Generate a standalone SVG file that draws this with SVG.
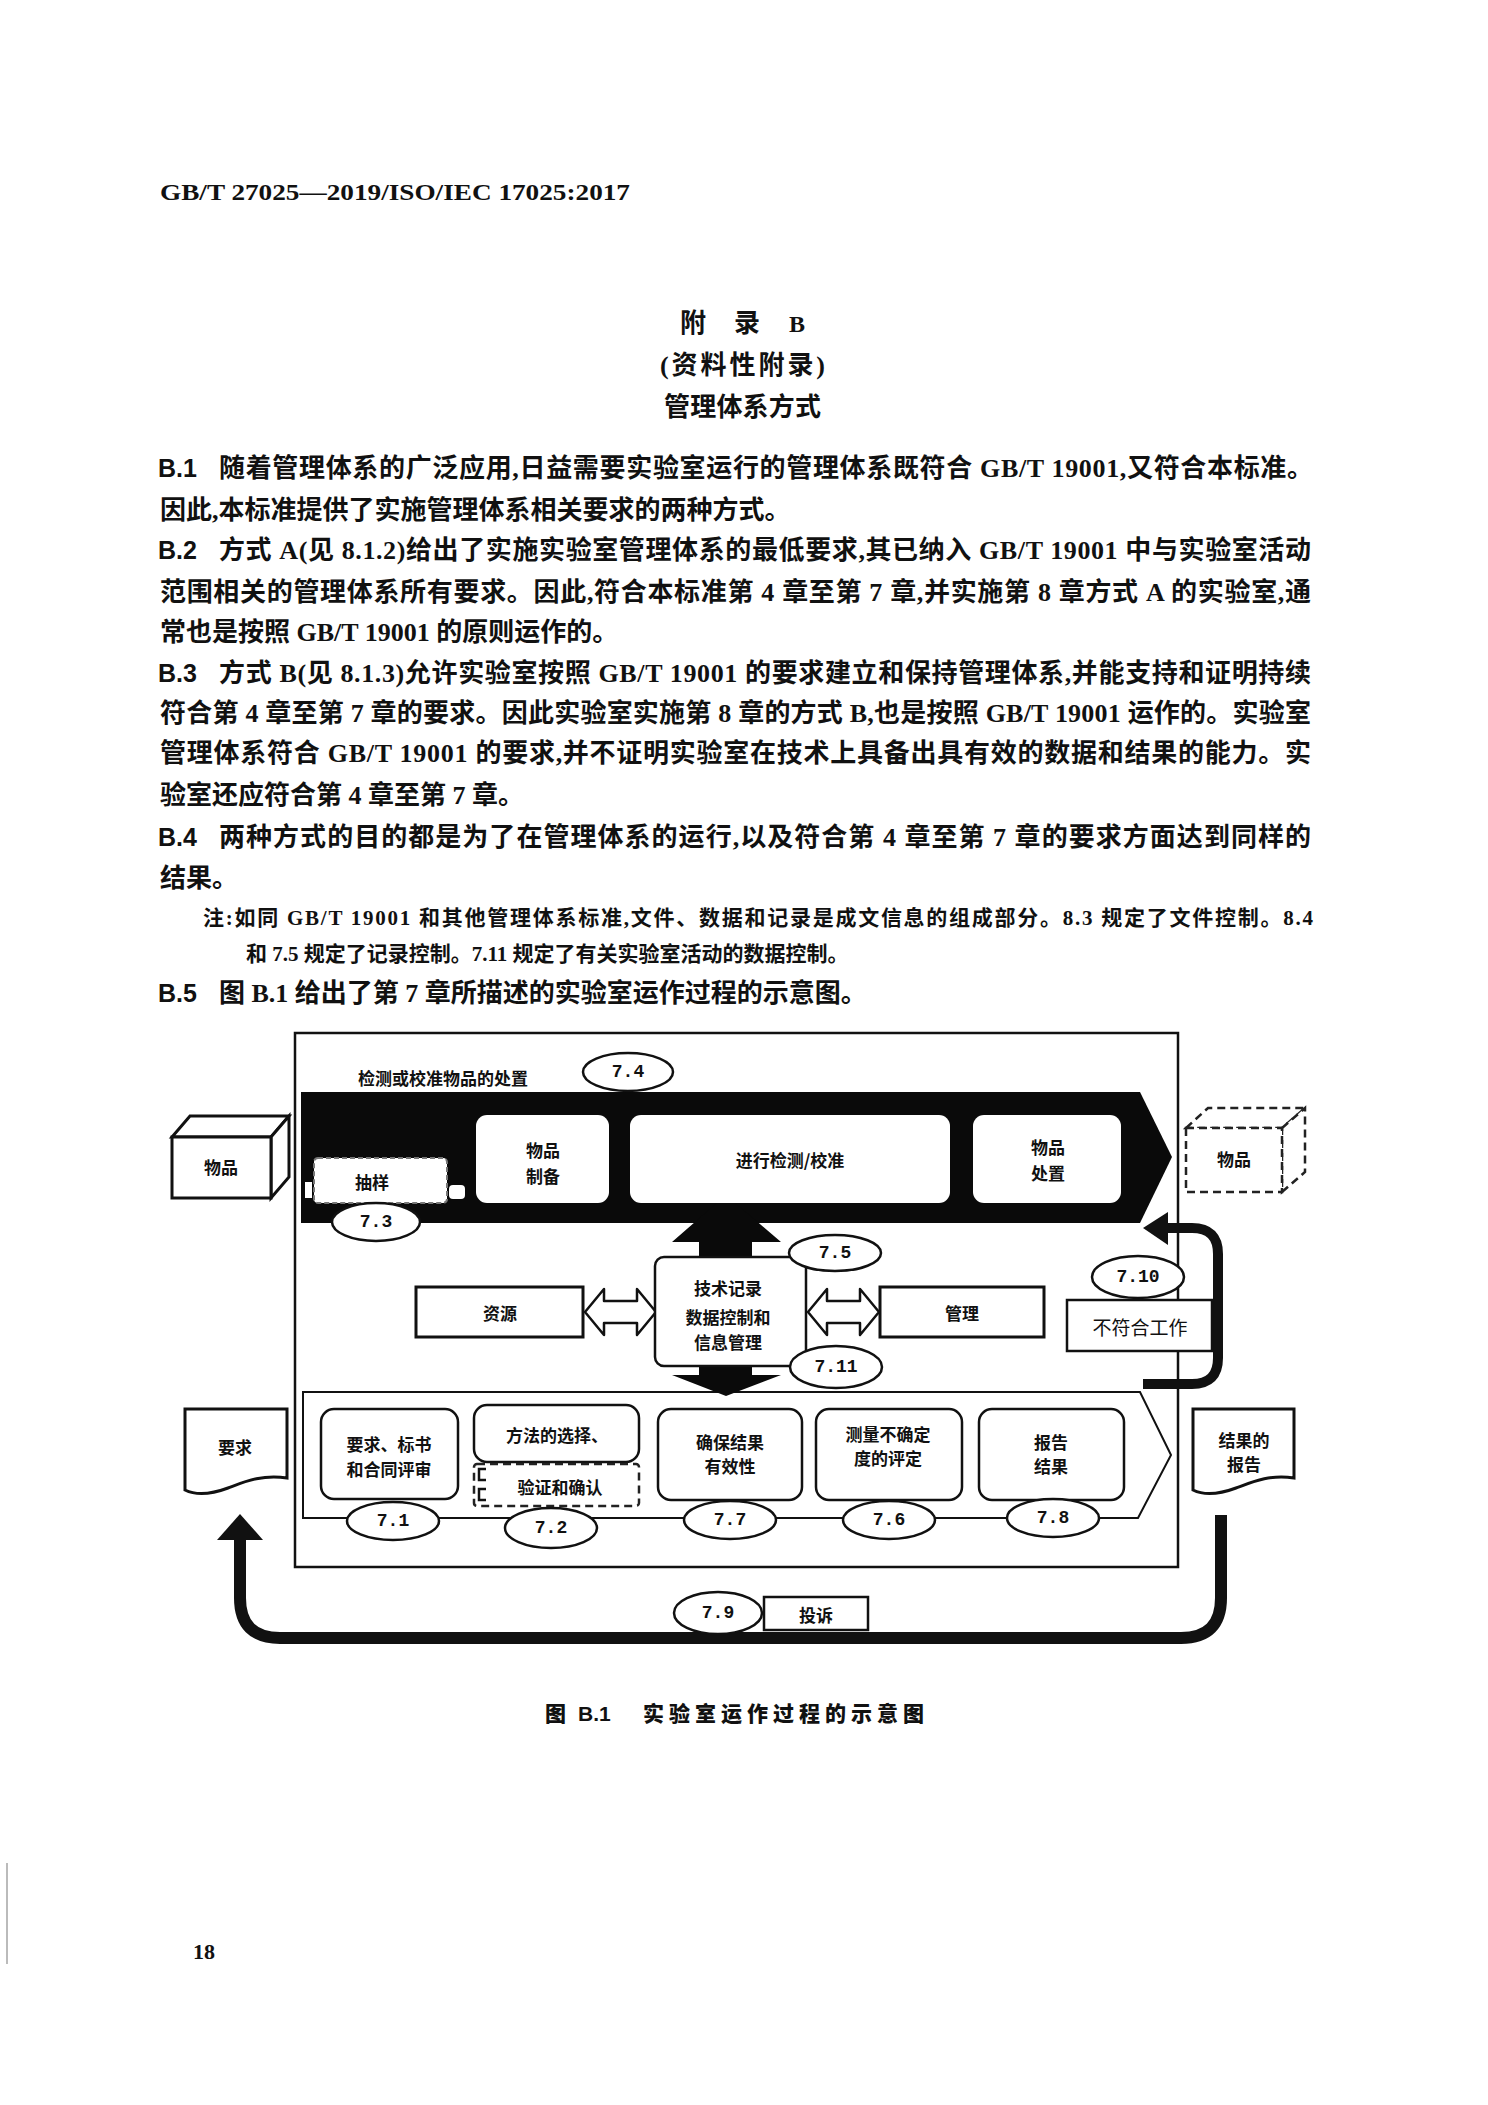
<svg xmlns="http://www.w3.org/2000/svg" width="1488" height="2105" viewBox="0 0 1488 2105">
<style>
.hd{font-family:"Liberation Serif","Noto Sans CJK SC",serif;font-weight:700;fill:#111}
.t{font-family:"Liberation Serif","Noto Sans CJK SC",serif;font-size:26px;font-weight:700;fill:#111}
.lb{font-family:"Liberation Sans","Noto Sans CJK SC",sans-serif;font-size:25px;font-weight:700;fill:#111}
.nt{font-family:"Liberation Serif","Noto Sans CJK SC",serif;font-size:21px;font-weight:700;fill:#111}
.d{font-family:"Noto Sans CJK SC",sans-serif;font-size:17px;font-weight:700;fill:#111;text-anchor:middle;dominant-baseline:central}
.dn{font-family:"Noto Sans CJK SC",sans-serif;font-size:19px;font-weight:400;fill:#111;text-anchor:middle;dominant-baseline:central}
.n{font-family:"Liberation Mono",monospace;font-size:18px;font-weight:700;fill:#111;text-anchor:middle;dominant-baseline:central}
.box{fill:#fff;stroke:#111;stroke-width:2.5}
.thick{fill:#fff;stroke:#111;stroke-width:3}
.ell{fill:#fff;stroke:#111;stroke-width:2.5}
.dash{fill:#fff;stroke:#222;stroke-width:2.5;stroke-dasharray:8 5}
.flow{fill:none;stroke:#111;stroke-linecap:butt}
.cap{font-family:"Liberation Sans","Noto Sans CJK SC",sans-serif;font-size:21px;font-weight:900;fill:#111}
</style>
<rect width="1488" height="2105" fill="#fff"/>
<line x1="7" y1="1863" x2="7" y2="1964" stroke="#bbb" stroke-width="2"/>

<!-- page header and text -->
<text class="hd" x="160" y="200" font-size="23" textLength="470" lengthAdjust="spacingAndGlyphs">GB/T 27025—2019/ISO/IEC 17025:2017</text>
<text class="hd" x="680" y="332" font-size="26" font-family="Noto Sans CJK SC, sans-serif">附</text>
<text class="hd" x="734" y="332" font-size="26" font-family="Noto Sans CJK SC, sans-serif">录</text>
<text class="hd" x="789" y="332" font-size="24">B</text>
<text class="hd" x="660" y="374" font-size="26" textLength="165" font-family="Noto Sans CJK SC, sans-serif">(资料性附录)</text>
<text class="hd" x="664" y="416" font-size="26" textLength="157" font-family="Noto Sans CJK SC, sans-serif">管理体系方式</text>

<text class="lb" x="158" y="477">B.1</text>
<text class="t" x="219" y="477" textLength="1094">随着管理体系的广泛应用,日益需要实验室运行的管理体系既符合 GB/T 19001,又符合本标准。</text>
<text class="t" x="160" y="519">因此,本标准提供了实施管理体系相关要求的两种方式。</text>
<text class="lb" x="158" y="559">B.2</text>
<text class="t" x="219" y="559" textLength="1092">方式 A(见 8.1.2)给出了实施实验室管理体系的最低要求,其已纳入 GB/T 19001 中与实验室活动</text>
<text class="t" x="160" y="601" textLength="1151">范围相关的管理体系所有要求。因此,符合本标准第 4 章至第 7 章,并实施第 8 章方式 A 的实验室,通</text>
<text class="t" x="160" y="641">常也是按照 GB/T 19001 的原则运作的。</text>
<text class="lb" x="158" y="682">B.3</text>
<text class="t" x="219" y="682" textLength="1092">方式 B(见 8.1.3)允许实验室按照 GB/T 19001 的要求建立和保持管理体系,并能支持和证明持续</text>
<text class="t" x="160" y="722" textLength="1151">符合第 4 章至第 7 章的要求。因此实验室实施第 8 章的方式 B,也是按照 GB/T 19001 运作的。实验室</text>
<text class="t" x="160" y="762" textLength="1151">管理体系符合 GB/T 19001 的要求,并不证明实验室在技术上具备出具有效的数据和结果的能力。实</text>
<text class="t" x="160" y="804">验室还应符合第 4 章至第 7 章。</text>
<text class="lb" x="158" y="846">B.4</text>
<text class="t" x="219" y="846" textLength="1092">两种方式的目的都是为了在管理体系的运行,以及符合第 4 章至第 7 章的要求方面达到同样的</text>
<text class="t" x="160" y="887">结果。</text>
<text class="nt" x="203" y="925" textLength="1110">注:如同 GB/T 19001 和其他管理体系标准,文件、数据和记录是成文信息的组成部分。8.3 规定了文件控制。8.4</text>
<text class="nt" x="246" y="961">和 7.5 规定了记录控制。7.11 规定了有关实验室活动的数据控制。</text>
<text class="lb" x="158" y="1002">B.5</text>
<text class="t" x="219" y="1002">图 B.1 给出了第 7 章所描述的实验室运作过程的示意图。</text>

<!-- diagram frame -->
<g id="frame">
<rect x="295" y="1033" width="883" height="534" fill="none" stroke="#111" stroke-width="2.5"/>
</g>

<!-- connectors -->
<g id="connectors">
<polygon id="band" points="301,1092 1140,1092 1172,1157 1140,1223 301,1223" fill="#0a0a0a"/>
<polygon id="chevron" points="303,1392 1140,1392 1171,1455 1138,1518 303,1518" fill="#fff" stroke="#111" stroke-width="2"/>
<polygon points="726,1195 781,1242 752,1242 752,1258 699,1258 699,1242 672,1242" fill="#0a0a0a"/>
<polygon points="699,1365 752,1365 752,1375 781,1375 726,1396 672,1375 699,1375" fill="#0a0a0a"/>
<polygon points="585,1312 604,1289 604,1301 637,1301 637,1289 656,1312 637,1335 637,1323 604,1323 604,1335" fill="#fff" stroke="#111" stroke-width="2.5" stroke-linejoin="round"/>
<polygon points="808,1312 827,1289 827,1301 860,1301 860,1289 879,1312 860,1335 860,1323 827,1323 827,1335" fill="#fff" stroke="#111" stroke-width="2.5" stroke-linejoin="round"/>
<path class="flow" stroke-width="10" d="M1162,1228 H1192 Q1218,1228 1218,1254 V1358 Q1218,1384 1192,1384 H1143"/>
<polygon points="1143,1228 1168,1212 1168,1245" fill="#111"/>
<path class="flow" stroke-width="12" d="M1221,1515 V1598 Q1221,1638 1181,1638 H280 Q240,1638 240,1598 V1536"/>
<polygon points="240,1514 263,1540 217,1540" fill="#111"/>
</g>

<!-- top row -->
<g id="title-74">
<text class="d" x="443" y="1077" font-size="18">检测或校准物品的处置</text>
<ellipse class="ell" cx="628" cy="1072" rx="45" ry="19"/>
<text class="n" x="628" y="1072">7.4</text>
</g>
<g id="item-in">
<polygon class="thick" points="172,1137 190,1116 289,1116 271,1137"/>
<polygon class="thick" points="271,1137 289,1116 289,1177 271,1198"/>
<rect class="thick" x="172" y="1137" width="99" height="61"/>
<text class="d" x="221" y="1166">物品</text>
</g>
<g id="item-out">
<polygon class="dash" points="1186,1128 1208,1108 1305,1108 1282,1128"/>
<polygon class="dash" points="1282,1128 1305,1108 1305,1172 1282,1192"/>
<rect class="dash" x="1186" y="1128" width="96" height="64"/>
<text class="d" x="1234" y="1158">物品</text>
</g>
<g id="sampling">
<rect x="305" y="1182" width="7" height="16" fill="#fff"/>
<rect x="449" y="1185" width="16" height="14" rx="4" fill="#fff"/>
<rect x="314" y="1158" width="133" height="45" rx="4" fill="#fff" stroke="#777" stroke-width="2" stroke-dasharray="5 3"/>
<text class="d" x="372" y="1181">抽样</text>
<ellipse class="ell" cx="376" cy="1222" rx="44" ry="19"/>
<text class="n" x="376" y="1222">7.3</text>
</g>
<g id="prep">
<rect x="476" y="1115" width="133" height="88" rx="11" fill="#fff"/>
<text class="d" x="543" y="1149">物品</text>
<text class="d" x="543" y="1175">制备</text>
</g>
<g id="test">
<rect x="630" y="1115" width="320" height="88" rx="11" fill="#fff"/>
<text class="d" x="790" y="1159">进行检测/校准</text>
</g>
<g id="disposal">
<rect x="973" y="1115" width="148" height="88" rx="11" fill="#fff"/>
<text class="d" x="1048" y="1146">物品</text>
<text class="d" x="1048" y="1172">处置</text>
</g>

<!-- middle row -->
<g id="resources">
<rect class="thick" x="416" y="1287" width="167" height="50"/>
<text class="d" x="500" y="1312">资源</text>
</g>
<g id="records">
<rect class="box" x="655" y="1257" width="151" height="109" rx="9"/>
<text class="d" x="728" y="1287">技术记录</text>
<text class="d" x="728" y="1316">数据控制和</text>
<text class="d" x="728" y="1341">信息管理</text>
<ellipse class="ell" cx="835" cy="1253" rx="46" ry="18"/>
<text class="n" x="835" y="1253">7.5</text>
<ellipse class="ell" cx="836" cy="1367" rx="46" ry="21"/>
<text class="n" x="836" y="1367">7.11</text>
</g>
<g id="management">
<rect class="thick" x="880" y="1287" width="164" height="50"/>
<text class="d" x="962" y="1312">管理</text>
</g>
<g id="nonconforming">
<ellipse class="ell" cx="1138" cy="1277" rx="46" ry="21"/>
<text class="n" x="1138" y="1277">7.10</text>
<rect class="box" x="1067" y="1300" width="145" height="51"/>
<text class="dn" x="1140" y="1326">不符合工作</text>
</g>

<!-- bottom row -->
<g id="requirements">
<path class="thick" d="M185,1409 H287 V1478 C262,1474 244,1482 228,1488 C212,1494 197,1496 185,1490 Z"/>
<text class="d" x="235" y="1446">要求</text>
</g>
<g id="review">
<rect class="box" x="321" y="1409" width="137" height="90" rx="13"/>
<text class="d" x="389" y="1443">要求、标书</text>
<text class="d" x="389" y="1468">和合同评审</text>
<ellipse class="ell" cx="393" cy="1521" rx="46" ry="19"/>
<text class="n" x="393" y="1521">7.1</text>
</g>
<g id="methods">
<rect class="box" x="474" y="1405" width="165" height="57" rx="13"/>
<text class="d" x="557" y="1434">方法的选择、</text>
<rect class="dash" x="474" y="1464" width="165" height="42" rx="3" stroke-dasharray="6 3"/>
<path d="M486,1469 H479 V1480 H486 M486,1489 H479 V1500 H486" fill="none" stroke="#111" stroke-width="2.5"/>
<text class="d" x="560" y="1486">验证和确认</text>
<ellipse class="ell" cx="551" cy="1528" rx="46" ry="20"/>
<text class="n" x="551" y="1528">7.2</text>
</g>
<g id="validity">
<rect class="box" x="658" y="1409" width="144" height="91" rx="13"/>
<text class="d" x="730" y="1441">确保结果</text>
<text class="d" x="730" y="1465">有效性</text>
<ellipse class="ell" cx="730" cy="1520" rx="46" ry="19"/>
<text class="n" x="730" y="1520">7.7</text>
</g>
<g id="uncertainty">
<rect class="box" x="816" y="1409" width="146" height="91" rx="13"/>
<text class="d" x="888" y="1433">测量不确定</text>
<text class="d" x="888" y="1457">度的评定</text>
<ellipse class="ell" cx="889" cy="1520" rx="46" ry="19"/>
<text class="n" x="889" y="1520">7.6</text>
</g>
<g id="report">
<rect class="box" x="979" y="1409" width="145" height="91" rx="13"/>
<text class="d" x="1051" y="1441">报告</text>
<text class="d" x="1051" y="1465">结果</text>
<ellipse class="ell" cx="1053" cy="1518" rx="46" ry="19"/>
<text class="n" x="1053" y="1518">7.8</text>
</g>
<g id="result-report">
<path class="thick" d="M1193,1409 H1294 V1478 C1270,1474 1252,1482 1236,1488 C1220,1494 1205,1496 1193,1490 Z"/>
<text class="d" x="1244" y="1439">结果的</text>
<text class="d" x="1244" y="1463">报告</text>
</g>
<g id="complaints">
<ellipse class="ell" cx="718" cy="1613" rx="44" ry="21"/>
<text class="n" x="718" y="1613">7.9</text>
<rect class="box" x="764" y="1597" width="104" height="33"/>
<text class="d" x="816" y="1614">投诉</text>
</g>

<!-- caption and page number -->
<text class="cap" x="545" y="1721" font-family="Noto Sans CJK SC, sans-serif">图</text>
<text class="cap" x="578" y="1721" font-weight="700">B.1</text>
<text class="cap" x="643" y="1721" letter-spacing="5" font-family="Noto Sans CJK SC, sans-serif">实验室运作过程的示意图</text>
<text class="hd" x="193" y="1959" font-size="22">18</text>
</svg>
